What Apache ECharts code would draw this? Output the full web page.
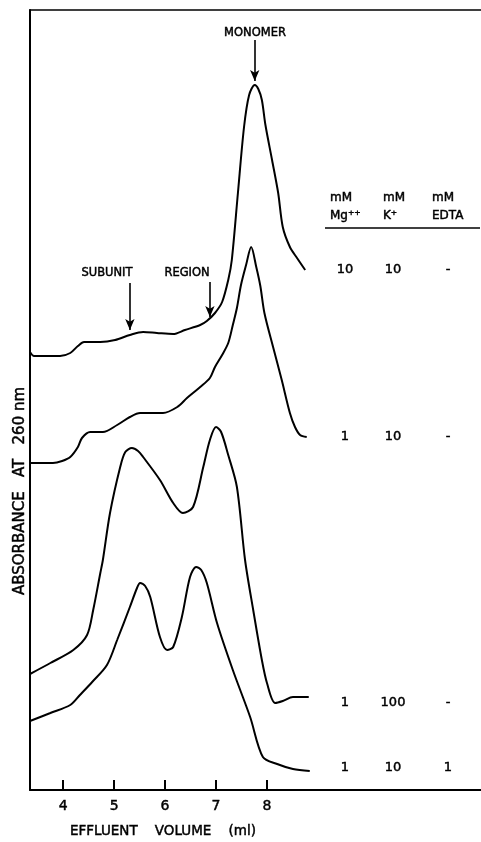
<!DOCTYPE html>
<html>
<head>
<meta charset="utf-8">
<script src="https://cdn.jsdelivr.net/npm/echarts@6/dist/echarts.min.js"></script>
<style>html,body{margin:0;padding:0;background:#fff}#c{width:481px;height:842px}</style>
</head>
<body>
<div id="c"></div>
<script>
// Effluent volume (ml) vs. relative absorbance (arbitrary, offset traces)
var xTicks = [4, 5, 6, 7, 8];

var curveMg10K10 = [[3.35,43.8],[3.43,43.4],[3.94,43.4],[4.14,43.7],[4.29,44.4],[4.41,44.8],[4.73,44.8],[5.02,45.0],[5.31,45.5],[5.57,45.8],[5.84,45.7],[6.16,45.6],[6.39,46.0],[6.69,46.5],[6.82,46.9],[6.98,47.7],[7.12,48.8],[7.24,51.0],[7.31,53.0],[7.43,59.7],[7.55,66.3],[7.65,69.5],[7.76,70.5],[7.83,70.1],[7.90,69.0],[7.97,66.5],[8.10,63.0],[8.22,59.7],[8.31,56.3],[8.45,54.3],[8.59,53.2],[8.75,52.0]];

var curveMg1K10 = [[3.35,32.7],[3.80,32.7],[3.98,32.9],[4.14,33.3],[4.29,34.3],[4.37,35.2],[4.53,35.8],[4.78,35.8],[5.06,36.5],[5.31,37.3],[5.51,37.7],[5.96,37.7],[6.24,38.3],[6.43,39.2],[6.69,40.3],[6.88,41.2],[6.98,42.3],[7.12,43.5],[7.24,44.7],[7.33,46.5],[7.41,48.2],[7.49,50.5],[7.59,52.5],[7.69,54.3],[7.79,52.3],[7.87,50.4],[7.95,47.7],[8.12,44.3],[8.29,41.0],[8.45,37.7],[8.55,36.3],[8.65,35.5],[8.78,35.3]];

var curveMg1K100 = [[3.35,11.6],[3.75,12.7],[4.20,14.0],[4.47,15.5],[4.59,18.0],[4.73,21.7],[4.78,23.0],[4.92,27.7],[5.12,32.3],[5.22,33.8],[5.35,34.2],[5.47,33.9],[5.57,33.3],[5.90,31.0],[6.16,28.7],[6.35,27.7],[6.55,28.3],[6.75,32.3],[6.88,35.0],[7.00,36.3],[7.10,35.8],[7.24,33.5],[7.41,30.3],[7.57,23.0],[7.73,18.0],[7.90,13.0],[8.00,10.7],[8.16,8.7],[8.31,8.9],[8.51,9.3],[8.82,9.3]];

var curveEDTA = [[3.35,6.9],[3.75,7.7],[4.14,8.5],[4.33,9.5],[4.57,10.8],[4.86,12.5],[5.06,15.0],[5.31,18.3],[5.45,20.2],[5.51,20.7],[5.61,20.4],[5.71,19.3],[5.90,15.3],[6.04,14.0],[6.16,14.3],[6.33,17.3],[6.49,21.3],[6.61,22.3],[6.71,22.0],[6.82,20.7],[7.02,16.7],[7.33,12.0],[7.67,7.3],[7.92,3.3],[8.20,2.6],[8.51,2.1],[8.84,1.9]];

var tableHead = [["mM", "Mg\u207A\u207A"], ["mM", "K\u207A"], ["mM", "EDTA"]];
var tableRows = [["10", "10", "-"], ["1", "10", "-"], ["1", "100", "-"], ["1", "10", "1"]];

var chart = echarts.init(document.getElementById('c'), null, {renderer: 'canvas'});
var FONT = '"DejaVu Sans", "Liberation Sans", sans-serif';
var INK = '#000';

function lineSeries(name, data, extra) {
  var s = {
    name: name, type: 'line', data: data, smooth: 0.3, showSymbol: false,
    lineStyle: {color: INK, width: 2}, silent: true, animation: false
  };
  if (extra) for (var k in extra) s[k] = extra[k];
  return s;
}

function arrow(x, y0, y1) {
  return [{coord: [x, y0], symbol: 'none'}, {coord: [x, y1], symbol: 'arrow', symbolSize: [7, 11]}];
}

function txt(o, text, size, align) {
  o.style = {text: text, font: size + 'px ' + FONT, fill: INK, stroke: INK, lineWidth: 0.45,
    align: align || 'center', verticalAlign: 'middle'};
  return o;
}

var colX = [345, 393, 448];
var headLeft = [330, 383, 432];
var rowY = [270, 437, 703, 768];
var graphics = [];
tableHead.forEach(function (h, i) {
  graphics.push(txt({type: 'text', x: headLeft[i], y: 198}, h[0], 12, 'left'));
  graphics.push(txt({type: 'text', x: headLeft[i], y: 216}, h[1], 12, 'left'));
});
graphics.push({type: 'line', shape: {x1: 325, y1: 228, x2: 480, y2: 228}, style: {stroke: INK, lineWidth: 1.6}});
tableRows.forEach(function (r, j) {
  r.forEach(function (t, i) {
    graphics.push(txt({type: 'text', x: colX[i], y: rowY[j]}, t, 13));
  });
});
graphics.push(txt({type: 'text', x: 255, y: 33}, 'MONOMER', 11.5));
graphics.push(txt({type: 'text', x: 107, y: 273}, 'SUBUNIT', 11.5));
graphics.push(txt({type: 'text', x: 187, y: 273}, 'REGION', 11.5));
graphics.push(txt({type: 'text', x: 20, y: 491, rotation: Math.PI / 2}, 'ABSORBANCE   AT   260 nm', 15));
graphics.push(txt({type: 'text', x: 163, y: 831}, 'EFFLUENT    VOLUME    (ml)', 13.5));

chart.setOption({
  animation: false,
  backgroundColor: '#fff',
  grid: {left: 30, right: 0, top: 10, bottom: 52},
  xAxis: [{
    type: 'value', min: 3.35, max: 12.2,
    axisLine: {show: true, lineStyle: {color: INK, width: 2}},
    axisTick: {show: true, inside: true, length: 10, customValues: xTicks, lineStyle: {color: INK, width: 2}},
    axisLabel: {customValues: xTicks, color: INK, fontSize: 14, fontFamily: FONT, margin: 9,
      textBorderColor: INK, textBorderWidth: 0.45},
    splitLine: {show: false}
  }, {
    type: 'value', position: 'top', min: 3.35, max: 12.2,
    axisLine: {show: true, lineStyle: {color: INK, width: 1.6}},
    axisTick: {show: false}, axisLabel: {show: false}, splitLine: {show: false}
  }],
  yAxis: {
    type: 'value', min: 0, max: 78,
    axisLine: {show: true, lineStyle: {color: INK, width: 2}},
    axisTick: {show: false}, axisLabel: {show: false}, splitLine: {show: false}
  },
  series: [
    lineSeries('10 mM Mg, 10 mM K', curveMg10K10, {
      markLine: {
        silent: true, animation: false,
        lineStyle: {color: INK, width: 1.6, type: 'solid'},
        label: {show: false},
        data: [arrow(7.76, 75, 70.9), arrow(5.31, 50.7, 46.0), arrow(6.88, 50.8, 47.3)]
      }
    }),
    lineSeries('1 mM Mg, 10 mM K', curveMg1K10),
    lineSeries('1 mM Mg, 100 mM K', curveMg1K100),
    lineSeries('1 mM Mg, 10 mM K, 1 mM EDTA', curveEDTA)
  ],
  graphic: graphics
});
</script>
</body>
</html>
